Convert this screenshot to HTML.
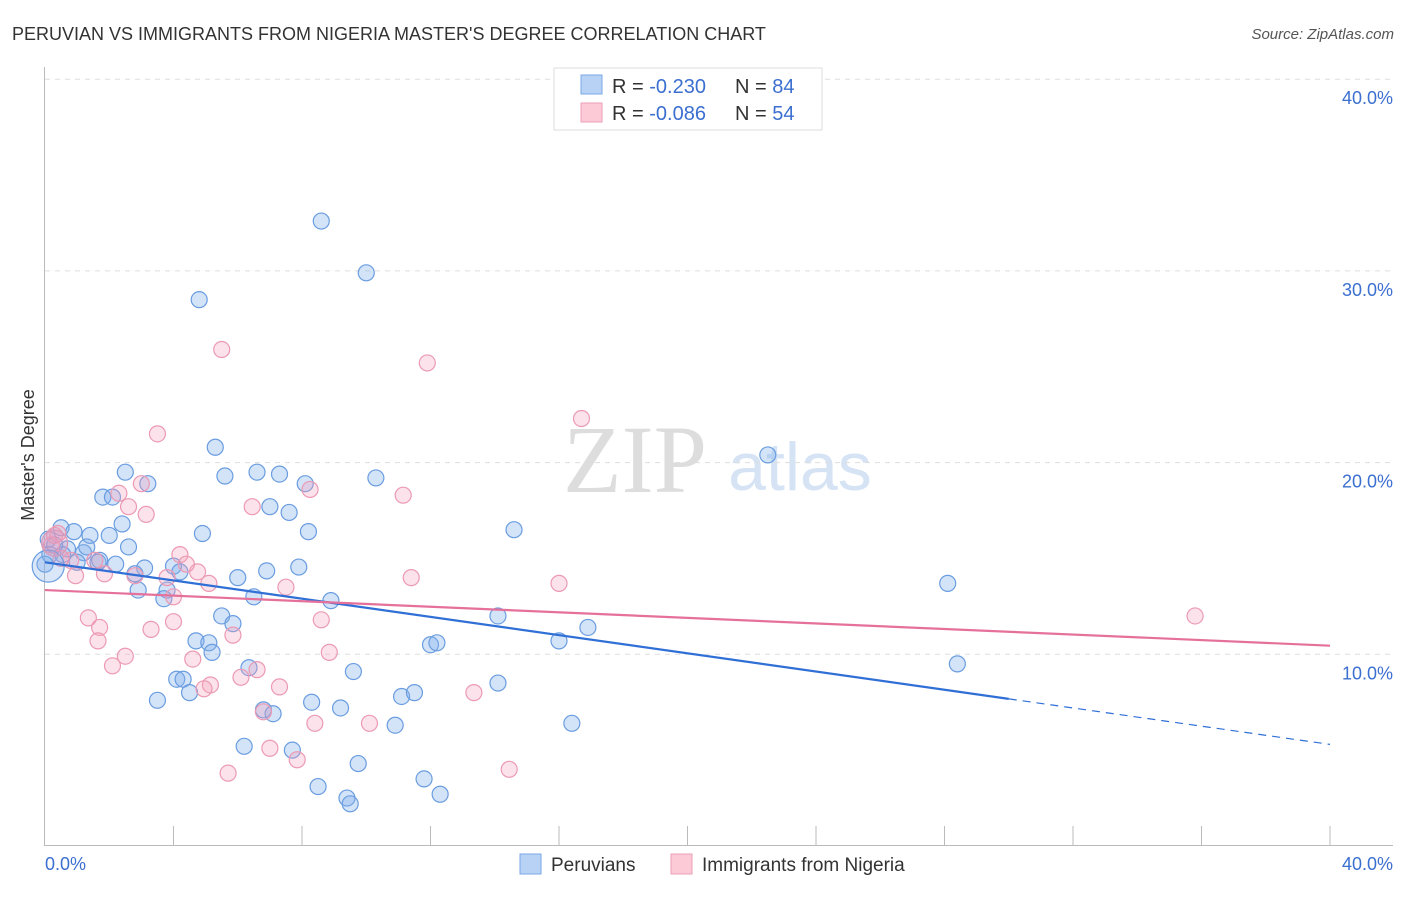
<!DOCTYPE html>
<html><head><meta charset="utf-8"><style>
body{margin:0;background:#fff;font-family:"Liberation Sans",sans-serif}
svg text{font-family:"Liberation Sans",sans-serif}
</style></head><body>
<svg id="c" width="1406" height="892">
<text x="12" y="40" font-size="18" fill="#333">PERUVIAN VS IMMIGRANTS FROM NIGERIA MASTER'S DEGREE CORRELATION CHART</text>
<text x="1394" y="39" font-size="15" fill="#555" font-style="italic" text-anchor="end">Source: ZipAtlas.com</text>
<text x="635" y="492" font-size="96" fill="#ddd" font-family="Liberation Serif" text-anchor="middle" style="font-family:'Liberation Serif',serif">ZIP</text>
<text x="800" y="490" font-size="68" fill="#d5e3f5" text-anchor="middle">atlas</text>
<g id="grid"></g><g id="axes"></g><g id="pts"></g><g id="trend"></g>
<text transform="translate(34,455) rotate(-90)" font-size="18" fill="#333" text-anchor="middle">Master's Degree</text>
<g>
<rect x="554" y="68" width="268" height="62" fill="#fff" stroke="#ddd"/>
<rect x="581" y="75" width="21" height="19" fill="#b7d2f5" stroke="#7aa8e6"/>
<rect x="581" y="103" width="21" height="19" fill="#fcc9d7" stroke="#eba0b6"/>
<text x="612" y="93" font-size="20" fill="#333">R = <tspan fill="#3b6fd0">-0.230</tspan></text>
<text x="735" y="93" font-size="20" fill="#333">N = <tspan fill="#3b6fd0">84</tspan></text>
<text x="612" y="120" font-size="20" fill="#333">R = <tspan fill="#3b6fd0">-0.086</tspan></text>
<text x="735" y="120" font-size="20" fill="#333">N = <tspan fill="#3b6fd0">54</tspan></text>
</g>
<g>
<rect x="520" y="854" width="21" height="20" fill="#b7d2f5" stroke="#7aa8e6"/>
<text x="551" y="871" font-size="19" fill="#333">Peruvians</text>
<rect x="671" y="854" width="21" height="20" fill="#fcc9d7" stroke="#eba0b6"/>
<text x="702" y="871" font-size="19" fill="#333">Immigrants from Nigeria</text>
</g>
</svg>
<script>
const yTicks=[10,20,30,40];
const yTickLabels=["10.0%","20.0%","30.0%","40.0%"];
const xTickLabels=["0.0%","40.0%"];
const blueX=[8.6,10.0,4.8,5.3,22.5,2.5,5.6,6.6,7.3,10.3,3.2,8.1,1.8,2.1,7.0,7.6,2.4,14.6,0.5,0.9,1.4,2.0,4.9,8.2,0.1,0.7,1.2,2.6,1.65,2.2,1.0,3.1,4.0,2.8,4.2,7.9,6.9,6.0,28.1,2.9,3.8,3.7,6.5,8.9,14.1,5.5,5.85,16.9,16.0,4.7,5.1,12.0,12.2,5.2,28.4,9.6,6.35,4.1,4.3,4.5,3.5,8.3,11.1,11.5,14.1,9.2,6.8,7.1,16.4,10.9,6.2,7.7,9.75,11.8,8.5,12.3,9.4,9.5,0.15,0.3,0.0,0.55,1.3,1.7];
const blueY=[32.6,29.9,28.5,20.8,20.4,19.5,19.3,19.5,19.4,19.2,18.9,18.9,18.2,18.2,17.7,17.4,16.8,16.5,16.6,16.4,16.2,16.2,16.3,16.4,16.0,15.5,15.3,15.6,14.8,14.7,14.8,14.5,14.6,14.2,14.3,14.55,14.35,14.0,13.7,13.35,13.35,12.9,13.0,12.8,12.0,12.0,11.6,11.4,10.7,10.7,10.6,10.5,10.6,10.1,9.5,9.1,9.3,8.7,8.7,8.0,7.6,7.5,7.8,8.0,8.5,7.2,7.1,6.9,6.4,6.3,5.2,5.0,4.3,3.5,3.1,2.7,2.5,2.2,15.2,15.7,14.7,15.2,15.6,14.9];
const pinkX=[5.5,11.9,16.7,3.5,3.0,2.3,11.15,8.25,2.6,3.15,6.45,0.4,4.2,0.8,1.55,2.8,3.8,4.75,4.4,5.1,7.5,11.4,16.0,1.85,0.95,4.0,35.8,1.35,4.0,8.6,1.7,3.3,1.65,5.85,8.85,2.5,4.6,2.1,6.6,6.1,7.3,5.15,4.95,13.35,6.8,8.4,10.1,7.0,7.85,5.7,14.45,0.2,0.3,0.5];
const pinkY=[25.9,25.2,22.3,21.5,18.9,18.4,18.3,18.6,17.7,17.3,17.7,16.3,15.2,14.9,14.9,14.1,14.0,14.3,14.7,13.7,13.5,14.0,13.7,14.2,14.1,13.0,12.0,11.9,11.7,11.8,11.4,11.3,10.7,11.0,10.1,9.9,9.75,9.4,9.2,8.8,8.3,8.4,8.2,8.0,7.0,6.4,6.4,5.1,4.5,3.8,4.0,15.7,16.2,15.0];
const bigBlue=[[0.1,14.6]],bigPink=[[0.3,15.8]];
const blueTrend=[14.8,5.3],pinkTrend=[13.35,10.45],blueSolidEnd=30;
const NS="http://www.w3.org/2000/svg";
const X=v=>45+v*32.125, Y=v=>846-v*19.17;
function mk(t,a,p){const e=document.createElementNS(NS,t);for(const k in a)e.setAttribute(k,a[k]);document.getElementById(p).appendChild(e);return e;}
yTicks.forEach((t,i)=>{
 const g=mk('line',{x1:45,x2:1393,y1:Y(t),y2:Y(t),stroke:'#ddd','stroke-dasharray':'5,5'},'grid');
 
 
 const l=mk('text',{x:1393,y:Y(t)+25,'font-size':18,fill:'#3b6fd0','text-anchor':'end'},'axes');
 l.textContent=yTickLabels[i];
 
 
});
const ax=mk('path',{d:'M44.5,67V845.5H1393',stroke:'#bbb',fill:'none'},'axes');


for(let i=1;i<=10;i++){const t=mk('line',{x1:X(i*4),x2:X(i*4),y1:826,y2:845,stroke:'#bbb'},'axes');
 
 }
[[0,45,'start'],[40,1393,'end']].forEach((d,i)=>{const t=mk('text',{x:d[1],y:870,'font-size':18,fill:'#3b6fd0','text-anchor':d[2]},'axes');t.textContent=xTickLabels[i];
 
 });
function dots(xs,ys,fill,stroke,name,r){xs.forEach((x,i)=>{const c=mk('circle',{cx:X(x),cy:Y(ys[i]),r:r,fill:fill,stroke:stroke,'stroke-width':1.2},'pts');
 
 });}
dots(blueX,blueY,'rgba(130,175,235,0.35)','#6a9de0','peruvian-point',8);
dots(pinkX,pinkY,'rgba(245,160,185,0.3)','#ec9ab4','nigeria-point',8);
dots(bigBlue.map(p=>p[0]),bigBlue.map(p=>p[1]),'rgba(130,175,235,0.3)','#6a9de0','peruvian-point-large',16);
dots(bigPink.map(p=>p[0]),bigPink.map(p=>p[1]),'rgba(220,150,190,0.35)','#d99ab8','nigeria-point-large',13);
const by=x=>blueTrend[0]+(blueTrend[1]-blueTrend[0])*x/40;
let l1=mk('line',{x1:X(0),y1:Y(by(0)),x2:X(blueSolidEnd),y2:Y(by(blueSolidEnd)),stroke:'#2f6fd6','stroke-width':2.2},'trend');


let l2=mk('line',{x1:X(blueSolidEnd),y1:Y(by(blueSolidEnd)),x2:X(40),y2:Y(by(40)),stroke:'#2f6fd6','stroke-width':1.2,'stroke-dasharray':'8,6'},'trend');


let l3=mk('line',{x1:X(0),y1:Y(pinkTrend[0]),x2:X(40),y2:Y(pinkTrend[1]),stroke:'#e5709a','stroke-width':2.2},'trend');


</script>
</body></html>
